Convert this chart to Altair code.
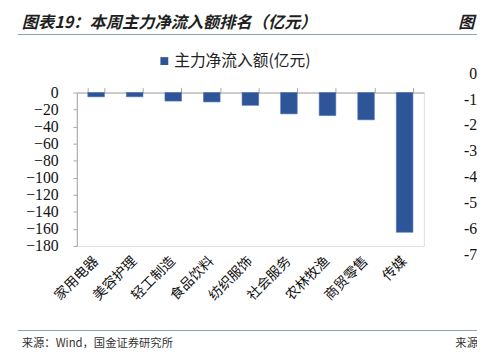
import altair as alt
import pandas as pd

categories = ["家用电器", "美容护理", "轻工制造", "食品饮料", "纺织服饰",
              "社会服务", "农林牧渔", "商贸零售", "传媒"]
values = [-5, -5, -10, -11, -15, -25, -27, -32, -164]
series_name = "主力净流入额(亿元)"
y_ticks = [0, -20, -40, -60, -80, -100, -120, -140, -160, -180]
right_ticks = ["0", "-1", "-2", "-3", "-4", "-5", "-6", "-7"]
title_text = "图表19：本周主力净流入额排名（亿元）"
source_text = "来源：Wind，国金证券研究所"

df = pd.DataFrame({"cat": categories, "val": values, "series": series_name})

BAR = "#2E5597"
CJK = "Noto Sans CJK SC"
SERIF = "Liberation Serif"
AXIS_GREY = "#a6a6a6"
RULE = "#8fa3b6"

xscale = alt.Scale(paddingInner=0.57, paddingOuter=0.285)
yscale = alt.Scale(domain=[-180, 0], nice=False, zero=True)

y_axis = alt.Axis(values=y_ticks, title=None, grid=False,
                  domainColor=AXIS_GREY, tickColor=AXIS_GREY, tickSize=4,
                  labelFont=SERIF, labelFontSize=16, labelColor="#111",
                  labelPadding=15, labelOverlap=False, labelBound=False,
                  labelFlush=False)

bars = alt.Chart(df).mark_bar(stroke="#4a70b0", strokeWidth=0.6).encode(
    x=alt.X("cat:N", sort=categories, scale=xscale,
            axis=alt.Axis(orient="bottom", title=None, labelAngle=-45,
                          labelAlign="right", labelBaseline="middle",
                          labelPadding=13, labelFont=CJK, labelFontSize=14,
                          labelColor="#111", domain=False, ticks=False,
                          labelOverlap=False)),
    y=alt.Y("val:Q", scale=yscale, axis=y_axis),
    color=alt.Color("series:N", scale=alt.Scale(range=[BAR]),
                    legend=alt.Legend(orient="none", legendX=81, legendY=-40,
                                      title=None, symbolType="square",
                                      symbolSize=64, symbolStrokeWidth=0,
                                      padding=0, labelFont=CJK,
                                      labelFontSize=16, labelColor="#222",
                                      labelOffset=2)),
)

top_axis = alt.Chart(df).mark_bar(opacity=0).encode(
    x=alt.X("cat:N", sort=categories, scale=xscale,
            axis=alt.Axis(orient="top", title=None, labels=False,
                          domainColor=AXIS_GREY, tickColor=AXIS_GREY,
                          tickSize=5, tickBand="extent")),
    y=alt.Y("val:Q", scale=yscale, axis=y_axis),
)

def text_layer(txt, x, y, size, color="#222", font=CJK, **kw):
    return alt.Chart(pd.DataFrame({"t": [txt]})).mark_text(
        font=font, fontSize=size, color=color, align=kw.pop("align", "left"),
        baseline=kw.pop("baseline", "middle"), **kw
    ).encode(text="t:N", x=alt.value(x), y=alt.value(y))

title = text_layer(title_text, -56, -71, 16.5, color="#1f1f1f",
                   fontWeight="bold", fontStyle="italic")
title2 = text_layer("图", 388, -71, 16.5, color="#1f1f1f",
                    fontWeight="bold", fontStyle="italic")
source = text_layer(source_text, -56, 256, 11.5, color="#333")
source2 = text_layer("来源", 385, 256, 11.5, color="#333")
right_axis = alt.Chart(pd.DataFrame({"t": ["\n".join(right_ticks)]})).mark_text(
    font=SERIF, fontSize=16, color="#111", align="right", baseline="top",
    lineBreak="\n", lineHeight=26.3
).encode(text="t:N", x=alt.value(407), y=alt.value(-27))

top_rule = alt.Chart(pd.DataFrame({"a": [0]})).mark_rule(
    color=RULE, strokeWidth=1.2).encode(
    x=alt.value(-60), x2=alt.value(410), y=alt.value(-59))
bottom_rule = alt.Chart(pd.DataFrame({"a": [0]})).mark_rule(
    color=RULE, strokeWidth=1.2).encode(
    x=alt.value(-60), x2=alt.value(410), y=alt.value(242))

chart = alt.layer(
    bars, top_axis, title, title2, source, source2, right_axis, top_rule, bottom_rule
).resolve_axis(x="independent").properties(
    width=353, height=156,
    autosize=alt.AutoSizeParams(type="none"),
    padding={"left": 70, "top": 83, "right": 54, "bottom": 111},
).configure_view(stroke=None).configure(background="white").configure_axisY(
    labelFont=SERIF, labelFontSize=16, labelColor="#111"
)

chart.save("out.html", embed_options={"renderer": "svg", "actions": False})
